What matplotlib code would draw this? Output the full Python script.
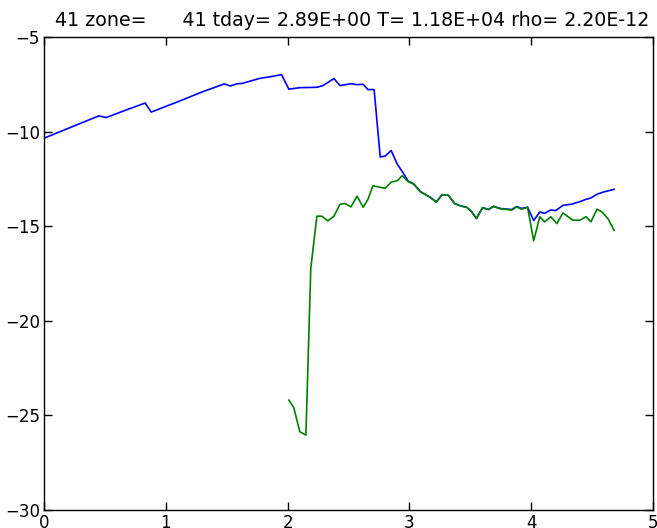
import matplotlib
matplotlib.use("Agg")
import matplotlib.pyplot as plt

# Zone profile: total (blue) and partial (green) log quantities vs. radius coordinate
x_total = [0.00, 0.45, 0.51, 0.69, 0.73, 0.83, 0.88, 1.10, 1.30, 1.48, 1.53, 1.58,
           1.63, 1.77, 1.86, 1.95, 2.01, 2.10, 2.24, 2.29, 2.38, 2.43, 2.52, 2.57,
           2.62, 2.66, 2.71, 2.76, 2.80, 2.85, 2.90, 2.95, 2.99, 3.03, 3.09, 3.17,
           3.22, 3.27, 3.32, 3.37, 3.42, 3.47, 3.51, 3.55, 3.60, 3.65, 3.69, 3.74,
           3.84, 3.88, 3.92, 3.97, 4.02, 4.07, 4.11, 4.16, 4.20, 4.26, 4.33, 4.40,
           4.45, 4.49, 4.54, 4.59, 4.68]
y_total = [-10.35, -9.17, -9.26, -8.82, -8.73, -8.49, -8.97, -8.42, -7.90, -7.48, -7.59, -7.48,
           -7.45, -7.19, -7.10, -6.99, -7.76, -7.68, -7.66, -7.57, -7.20, -7.57, -7.47, -7.52,
           -7.50, -7.78, -7.78, -11.34, -11.30, -11.00, -11.72, -12.20, -12.62, -12.74, -13.18, -13.47,
           -13.72, -13.33, -13.37, -13.80, -13.93, -14.00, -14.23, -14.60, -14.02, -14.12, -13.95, -14.06,
           -14.12, -13.96, -14.06, -14.00, -14.70, -14.25, -14.32, -14.14, -14.18, -13.90, -13.84, -13.70,
           -13.58, -13.51, -13.31, -13.20, -13.05]

x_part = [2.01, 2.05, 2.10, 2.15, 2.19, 2.24, 2.28, 2.33, 2.38, 2.43, 2.47, 2.52,
          2.57, 2.62, 2.66, 2.70, 2.80, 2.85, 2.90, 2.94, 2.99, 3.04, 3.09, 3.17,
          3.22, 3.27, 3.32, 3.37, 3.42, 3.47, 3.51, 3.55, 3.60, 3.65, 3.69, 3.74,
          3.84, 3.88, 3.92, 3.97, 4.02, 4.07, 4.11, 4.16, 4.21, 4.26, 4.34, 4.40,
          4.45, 4.49, 4.54, 4.58, 4.63, 4.68]
y_part = [-24.19, -24.58, -25.86, -26.04, -17.23, -14.47, -14.47, -14.72, -14.47, -13.84, -13.80, -13.98,
          -13.41, -14.00, -13.57, -12.86, -13.00, -12.67, -12.60, -12.33, -12.65, -12.79, -13.18, -13.47,
          -13.72, -13.33, -13.37, -13.80, -13.93, -14.00, -14.23, -14.60, -14.02, -14.12, -13.95, -14.07,
          -14.15, -13.98, -14.10, -14.00, -15.77, -14.50, -14.77, -14.50, -14.86, -14.30, -14.68, -14.68,
          -14.50, -14.77, -14.10, -14.24, -14.60, -15.22]

title = "41 zone=      41 tday= 2.89E+00 T= 1.18E+04 rho= 2.20E-12"

fig = plt.figure(figsize=(6.57, 5.28), dpi=100)
ax = fig.add_axes([0.067, 0.034, 0.927, 0.896])
ax.plot(x_total, y_total, color="#0000ff", lw=1.2)
ax.plot(x_part, y_part, color="#008000", lw=1.2)

ax.set_xlim(0, 5)
ax.set_ylim(-30, -5)
ax.set_xticks([0, 1, 2, 3, 4, 5])
ax.set_yticks([-30, -25, -20, -15, -10, -5])
ax.tick_params(direction="in", length=6, width=1, top=True, right=True,
               labelsize=12, pad=3)
for s in ax.spines.values():
    s.set_linewidth(1.0)
ax.set_title(title, fontsize=13.7, pad=8, x=0.506)

fig.savefig("out.png", dpi=100)
